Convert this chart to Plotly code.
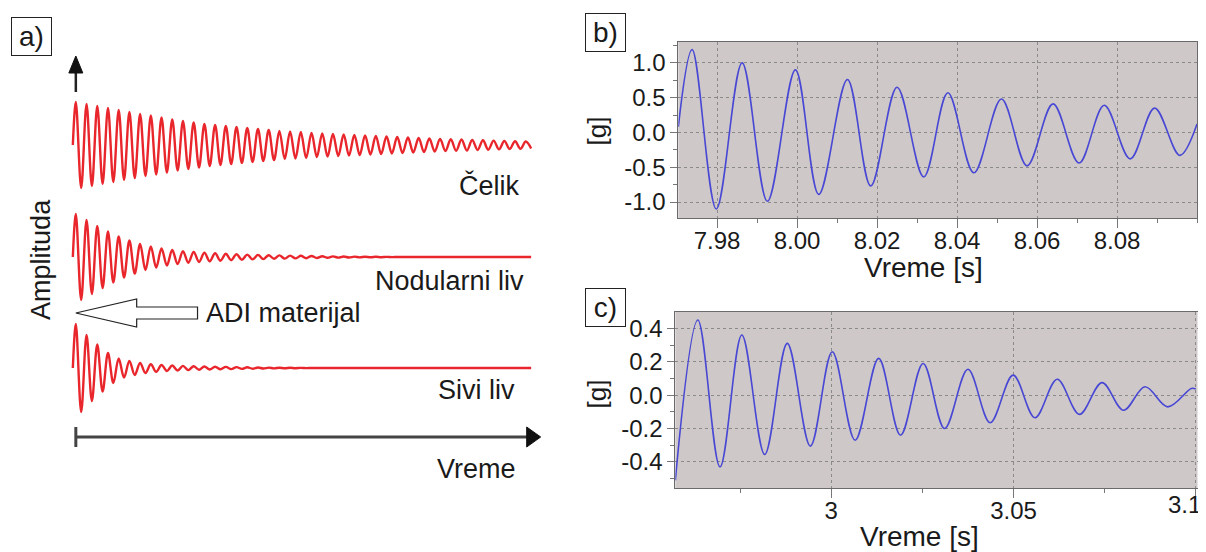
import plotly.graph_objects as go

# ---------------- data ----------------
# Panel a) schematic damped oscillations: amplitude of each successive cycle (read off the picture)
celik_amp = [43, 41, 39, 37, 35, 33, 31, 29.5, 27.5, 25.5, 24, 22.5, 21, 20, 19, 18, 17, 16, 15, 14,
             13.5, 13, 12, 11.5, 11, 10.5, 10, 9.5, 9, 8.5, 8, 7.5, 7, 6.5, 6, 5.8, 5.5, 5, 4.7, 4.4,
             4, 3.8, 3.5]
nodular_amp = [43, 37, 31, 25.5, 20.5, 16.5, 13, 10.5, 8.5, 7, 5.8, 5, 4.3, 3.7, 3.2, 2.8, 2.4, 2.1,
               1.8, 1.6, 1.4, 1.2, 1.0, 0.8, 0.6, 0.5, 0.4, 0.3, 0.2, 0.1, 0, 0, 0, 0, 0, 0, 0, 0,
               0, 0, 0, 0, 0]
sivi_amp = [44, 33, 23.5, 15, 9.5, 7, 5, 3.8, 3, 2.5, 2.1, 1.8, 1.5, 1.3, 1.1, 0.9, 0.7, 0.5, 0.4,
            0.3, 0.2, 0.1, 0, 0, 0, 0, 0, 0, 0, 0, 0, 0, 0, 0, 0, 0, 0, 0, 0, 0, 0, 0, 0]
series_names = ["Čelik", "Nodularni liv", "Sivi liv"]

# Panel b) measured signal (extrema read off the picture)
b_time = [7.9703, 7.97375, 7.9798, 7.98625, 7.99258, 7.99958, 8.00542, 8.01258, 8.01842, 8.0250,
          8.03167, 8.0377, 8.0442, 8.0511, 8.0575, 8.0640, 8.0705, 8.0768, 8.0833, 8.0894, 8.0957,
          8.1000]
b_accel = [0.08, 1.19, -1.10, 1.00, -0.99, 0.90, -0.89, 0.76, -0.77, 0.65, -0.64, 0.57, -0.58,
           0.48, -0.48, 0.41, -0.44, 0.39, -0.38, 0.35, -0.33, 0.12]
b_xtick_vals = [7.98, 8.00, 8.02, 8.04, 8.06, 8.08]
b_xtick_text = ["7.98", "8.00", "8.02", "8.04", "8.06", "8.08"]
b_ytick_vals = [-1.0, -0.5, 0.0, 0.5, 1.0]
b_ytick_text = ["-1.0", "-0.5", "0.0", "0.5", "1.0"]

# Panel c) measured signal
c_time = [2.9572, 2.96338, 2.96947, 2.97546, 2.98173, 2.98792, 2.99427, 3.00027, 3.00654, 3.0130,
          3.0190, 3.0252, 3.0311, 3.0375, 3.0436, 3.0499, 3.0559, 3.0620, 3.0681, 3.0743, 3.0802,
          3.0861, 3.0923, 3.0988, 3.1000]
c_accel = [-0.51, 0.45, -0.43, 0.36, -0.355, 0.31, -0.305, 0.26, -0.27, 0.22, -0.24, 0.19, -0.20,
           0.155, -0.165, 0.12, -0.135, 0.095, -0.115, 0.075, -0.09, 0.05, -0.07, 0.04, 0.037]
c_xtick_vals = [3.0, 3.05, 3.1]
c_xtick_text = ["3", "3.05", ""]
c_last_tick_label = "3.1"
c_ytick_vals = [-0.4, -0.2, 0.0, 0.2, 0.4]
c_ytick_text = ["-0.4", "-0.2", "0.0", "0.2", "0.4"]

# ---------------- styling / layout helpers ----------------
OFF = 8                      # default page margin of the html body
W, H = 1206 - OFF, 552 - OFF
FONT = "Liberation Sans, Arial, Helvetica, sans-serif"
RED = "#e8262c"
BLUE = "#4848d4"
BG = "#cec8c9"
GRID = "#8a8a8a"
AXLINE = "#6a6a6a"
TXT = "#1a1a1a"


def px(x):
    return (x - OFF) / W


def py(y):
    return 1 - (y - OFF) / H


def ydom(top, bottom):
    return [max(0.0, py(bottom)), min(1.0, py(top))]


fig = go.Figure()

# ---------- panel a traces ----------
PERIOD_PX = 10.74
START_PX = 76
bands = [(95, 195), (207, 307), (318, 418)]  # pixel bands (top, bottom) for the three schematic signals
amps = [celik_amp, nodular_amp, sivi_amp]
yaxis_names = ["y3", "y4", "y5"]
for name, amp, yname in zip(series_names, amps, yaxis_names):
    xs = [-0.28]
    ys = [0]
    for n, a in enumerate(amp):
        xs += [n, n + 0.5]
        ys += [a, -a]
    fig.add_trace(go.Scatter(x=xs, y=ys, mode="lines", name=name, showlegend=False,
                             line=dict(color=RED, width=2.4, shape="spline", smoothing=1.0),
                             xaxis="x3", yaxis=yname, hoverinfo="skip"))

# ---------- panels b, c traces ----------
fig.add_trace(go.Scatter(x=b_time, y=b_accel, mode="lines", showlegend=False,
                         line=dict(color=BLUE, width=1.6, shape="spline", smoothing=1.0),
                         xaxis="x", yaxis="y"))
fig.add_trace(go.Scatter(x=c_time, y=c_accel, mode="lines", showlegend=False,
                         line=dict(color=BLUE, width=1.6, shape="spline", smoothing=1.0),
                         xaxis="x2", yaxis="y2"))

tickfont = dict(family=FONT, size=24, color=TXT)


def xaxis_cfg(domain, rng, anchor, vals, text, minor_tick0, minor_dtick):
    return dict(domain=domain, range=rng, anchor=anchor, showline=True, linecolor=AXLINE,
                linewidth=1, mirror=True, ticks="outside", ticklen=9, tickcolor="#777",
                tickmode="array", tickvals=vals, ticktext=text, tickfont=tickfont,
                ticklabelstandoff=-8,
                showgrid=True, gridcolor=GRID, griddash="dot", gridwidth=1, zeroline=False,
                minor=dict(tickmode="linear", tick0=minor_tick0, dtick=minor_dtick,
                           ticks="outside", ticklen=4, tickcolor="#777", showgrid=False))


def yaxis_cfg(domain, rng, anchor, vals, text, minor_dtick):
    return dict(domain=domain, range=rng, anchor=anchor, showline=True, linecolor=AXLINE,
                linewidth=1, mirror="allticks", ticks="outside", ticklen=7, tickcolor="#777",
                tickmode="array", tickvals=vals, ticktext=text, tickfont=tickfont,
                showgrid=True, gridcolor=GRID, griddash="dot", gridwidth=1, zeroline=False,
                minor=dict(tickmode="linear", tick0=0, dtick=minor_dtick,
                           ticks="outside", ticklen=4, tickcolor="#777", showgrid=False))


hidden = dict(visible=False, showgrid=False, zeroline=False, fixedrange=True)

fig.update_layout(
    width=W, height=H,
    margin=dict(l=0, r=0, t=0, b=0),
    paper_bgcolor="white",
    plot_bgcolor="rgba(0,0,0,0)",
    font=dict(family=FONT, color=TXT),
    xaxis=xaxis_cfg([px(680), px(1200)], [7.9703, 8.1], "y", b_xtick_vals, b_xtick_text, 7.98, 0.01),
    yaxis=yaxis_cfg(ydom(42, 218), [-1.23, 1.30], "x", b_ytick_vals, b_ytick_text, 0.25),
    xaxis2=xaxis_cfg([px(677), px(1200.5)], [2.9572, 3.1005], "y2", c_xtick_vals, c_xtick_text, 3.0, 0.025),
    yaxis2=yaxis_cfg(ydom(312, 488), [-0.556, 0.498], "x2", c_ytick_vals, c_ytick_text, 0.1),
    xaxis3=dict(hidden, domain=[0, px(603)],
                range=[(OFF - START_PX) / PERIOD_PX, (603 - START_PX) / PERIOD_PX], anchor="y3"),
    yaxis3=dict(hidden, domain=ydom(*bands[0]), range=[-50, 50], anchor="x3"),
    yaxis4=dict(hidden, domain=ydom(*bands[1]), range=[-50, 50], anchor="x3"),
    yaxis5=dict(hidden, domain=ydom(*bands[2]), range=[-50, 50], anchor="x3"),
)

shapes = []
# gray plot backgrounds for b and c
for xr, yr in (("x domain", "y domain"), ("x2 domain", "y2 domain")):
    shapes.append(dict(type="rect", xref=xr, yref=yr, x0=0, x1=1, y0=0, y1=1,
                       fillcolor=BG, line=dict(width=0), layer="below"))


def pline(x0, y0, x1, y1, width, color):
    return dict(type="line", xref="paper", yref="paper", x0=px(x0), y0=py(y0), x1=px(x1), y1=py(y1),
                line=dict(color=color, width=width), layer="above")


def ppath(points, fill, lw, lc):
    d = "M " + " L ".join(f"{px(a):.5f},{py(b):.5f}" for a, b in points) + " Z"
    return dict(type="path", xref="paper", yref="paper", path=d, fillcolor=fill,
                line=dict(color=lc, width=lw), layer="above")


# amplitude arrow (up)
shapes.append(pline(76, 92, 76, 70, 2.5, "#222"))
shapes.append(ppath([(69, 73), (83, 73), (76, 56)], "#111", 1, "#111"))
# time axis arrow (right)
shapes.append(pline(76, 437, 530, 437, 3, "#444"))
shapes.append(pline(76, 427, 76, 447, 3, "#444"))
shapes.append(ppath([(528, 427), (528, 447), (542, 437)], "#111", 1, "#111"))
# hollow ADI arrow
shapes.append(ppath([(76, 313), (137, 299), (137, 307), (198, 307), (198, 319), (137, 319), (137, 327)],
                    "white", 1.2, "#222"))
fig.update_layout(shapes=shapes)

ann = []


def text(t, x, y, size=26, angle=0, xanchor="center"):
    ann.append(dict(text=t, x=px(x), y=py(y), xref="paper", yref="paper", showarrow=False,
                    xanchor=xanchor, yanchor="middle", textangle=angle,
                    font=dict(family=FONT, size=size, color=TXT)))


def boxlabel(t, x0, y0):
    ann.append(dict(text=t, x=px(x0), y=py(y0), xref="paper", yref="paper", showarrow=False,
                    xanchor="left", yanchor="top", width=39, height=37, borderpad=0,
                    bordercolor="#222", borderwidth=1, align="center", valign="middle",
                    font=dict(family=FONT, size=28, color=TXT)))


boxlabel("a)", 11, 17)
boxlabel("b)", 586, 13)
boxlabel("c)", 586, 288)

text("Čelik", 491, 185, size=27)
text("Nodularni liv", 451, 281, size=27)
text("ADI materijal", 284, 313, size=27)
text("Sivi liv", 478, 390, size=27)
text("Vreme", 478, 469, size=27)
text("Amplituda", 41, 259, size=27, angle=-90)

text("[g]", 598, 131, angle=-90)
text("[g]", 598, 394, angle=-90)
text("Vreme [s]", 926, 267, size=28)
text("Vreme [s]", 922, 536, size=28)
text(c_last_tick_label, 1206, 504, size=24, xanchor="right")

fig.update_layout(annotations=ann)

fig.write_html("out.html")
